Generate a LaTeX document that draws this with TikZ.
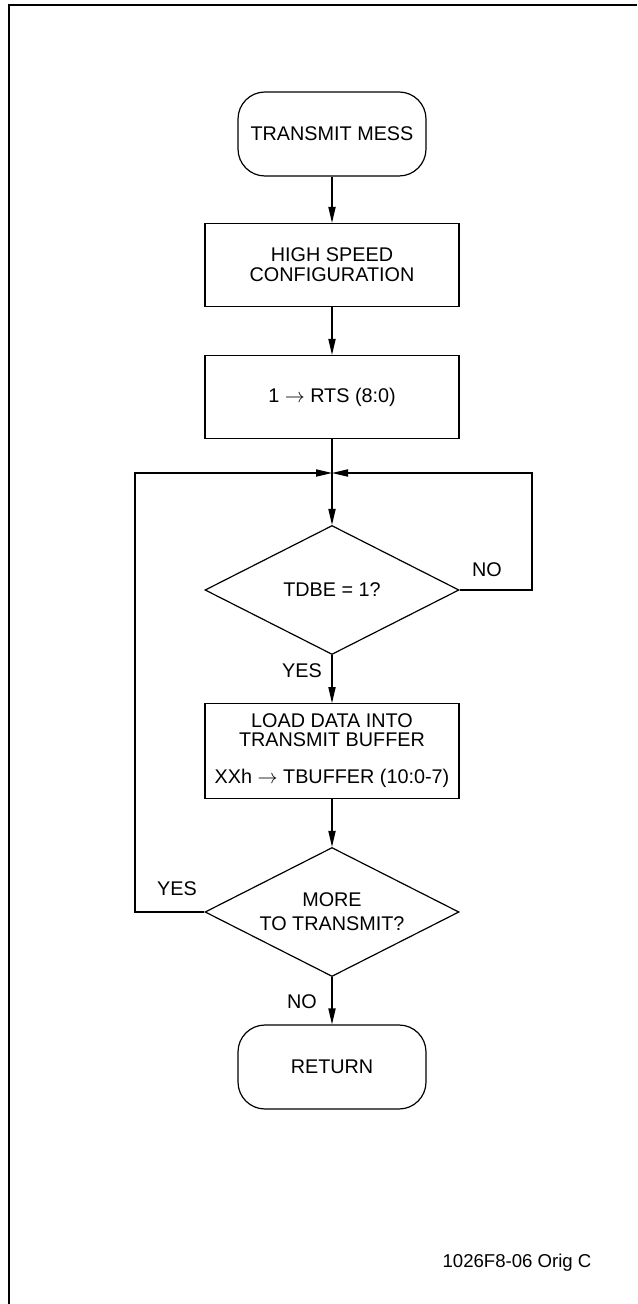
\documentclass[tikz,border=0pt]{standalone}
\usepackage{fontspec}
\setmainfont{Liberation Sans}
\usetikzlibrary{shapes.geometric,arrows.meta}

\begin{document}
\begin{tikzpicture}[x=0.5pt,y=-0.5pt,
    every node/.style={font=\fontsize{9.9}{10}\selectfont},
    term/.style={draw,rounded corners=13.5pt,minimum width=94pt,minimum height=42pt,line width=0.6pt},
    procbox/.style={draw,minimum width=127pt,line width=0.6pt,align=center},
    decide/.style={draw,diamond,aspect=2,inner sep=0pt,minimum width=127pt,minimum height=64.5pt,line width=0.6pt,align=center},
    flow/.style={-{Triangle[length=8pt,width=3.6pt]},line width=0.6pt}]
        \useasboundingbox (0,0) rectangle (637,1304);
        \draw[line width=1pt] (9,1304) -- (9,5) -- (637,5);

        % flow chart boxes
        \node[term] (start) at (332,134) {TRANSMIT MESS};
        \node[procbox,minimum height=41.5pt] (speed) at (332,265) {HIGH SPEED\\CONFIGURATION};
        \node[procbox,minimum height=41.5pt] (rts) at (332,397) {1 $\rightarrow$ RTS (8:0)};
        \coordinate (join) at (332,473);
        \node[decide] (tdbe) at (332,590) {TDBE = 1?};
        \node[procbox,minimum height=47.3pt] (load) at (332,751) {LOAD DATA INTO\\[-0.5pt]TRANSMIT BUFFER\\[8.5pt]XXh $\rightarrow$ TBUFFER (10:0-7)};
        \node[decide] (more) at (332,912) {MORE\\[2pt]TO TRANSMIT?};
        \node[term] (ret) at (332,1067) {RETURN};

        \coordinate (loopR) at (532,473);
        \coordinate (loopL) at (135,473);

        % labels
        \node (noA) at (487,570) {NO};
        \node (yesA) at (302,671) {YES};
        \node (yesB) at (177,889) {YES};
        \node (noB) at (302,1002) {NO};
        \node[font=\fontsize{9.3}{10}\selectfont] (tag) at (517,1263) {1026F8-06 Orig C};

        \draw[flow] (start) -- (speed);
        \draw[flow] (speed) -- (rts);
        \draw[flow] (rts) -- (tdbe);
        \draw[flow] (tdbe) -- (load);
        \draw[flow] (load) -- (more);
        \draw[flow] (more) -- (ret);
        \draw[flow] (tdbe.east) -| (loopR) -- (join);
        \draw[flow] (more.west) -| (loopL) -- (join);
      \end{tikzpicture}
\end{document}
